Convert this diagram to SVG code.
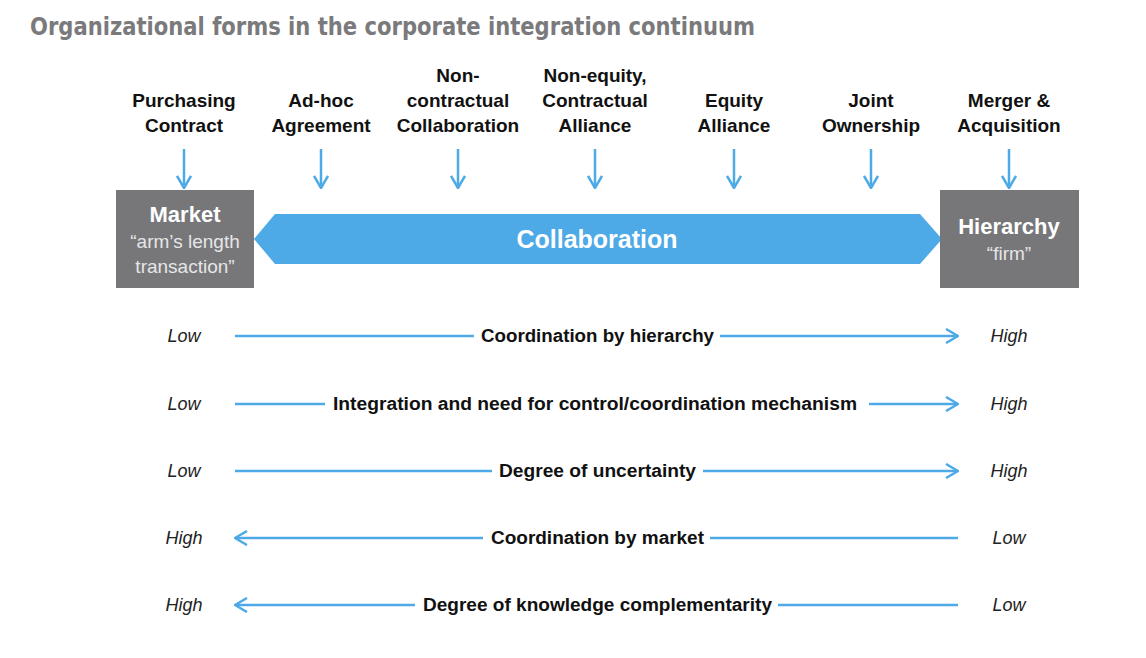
<svg xmlns="http://www.w3.org/2000/svg" width="1146" height="658" viewBox="0 0 1146 658">
<defs>
<style>
.title{font-family:"DejaVu Sans Condensed","DejaVu Sans",sans-serif;font-weight:bold;font-size:25px;fill:#7a7a7c}
.lab{font-family:"Liberation Sans",Arial,sans-serif;font-weight:bold;font-size:19px;fill:#111;text-anchor:middle}
.box{fill:#77777a}
.bt{font-family:"Liberation Sans",Arial,sans-serif;font-weight:bold;font-size:22px;fill:#fff;text-anchor:middle}
.bs{font-family:"Liberation Sans",Arial,sans-serif;font-size:19px;fill:#e6e6e6;text-anchor:middle}
.collab{fill:#4daae6}
.ct{font-family:"Liberation Sans",Arial,sans-serif;font-weight:bold;font-size:25px;fill:#fff;text-anchor:middle}
.ln{stroke:#4daae6;stroke-width:2.5;fill:none}
.it{font-family:"Liberation Sans",Arial,sans-serif;font-style:italic;font-size:18px;fill:#222;text-anchor:middle}
.rt{font-family:"Liberation Sans",Arial,sans-serif;font-weight:bold;font-size:18px;fill:#111}
</style>
<marker id="ah" viewBox="0 0 14 16" refX="13" refY="8" markerWidth="14" markerHeight="16" markerUnits="userSpaceOnUse" orient="auto">
<path d="M1,1 L13,8 L1,15" fill="none" stroke="#4daae6" stroke-width="2.5"/>
</marker>
</defs>
<rect width="1146" height="658" fill="#fff"/>
<text class="title" x="30" y="35" textLength="725" lengthAdjust="spacingAndGlyphs">Organizational forms in the corporate integration continuum</text>

<g id="labels">
<g id="purchasing"><text class="lab" x="184" y="107">Purchasing</text><text class="lab" x="184" y="132">Contract</text></g>
<g id="adhoc"><text class="lab" x="321" y="107">Ad-hoc</text><text class="lab" x="321" y="132">Agreement</text></g>
<g id="noncontractual"><text class="lab" x="458" y="82">Non-</text><text class="lab" x="458" y="107">contractual</text><text class="lab" x="458" y="132">Collaboration</text></g>
<g id="nonequity"><text class="lab" x="595" y="82">Non-equity,</text><text class="lab" x="595" y="107">Contractual</text><text class="lab" x="595" y="132">Alliance</text></g>
<g id="equity"><text class="lab" x="734" y="107">Equity</text><text class="lab" x="734" y="132">Alliance</text></g>
<g id="joint"><text class="lab" x="871" y="107">Joint</text><text class="lab" x="871" y="132">Ownership</text></g>
<g id="merger"><text class="lab" x="1009" y="107">Merger &amp;</text><text class="lab" x="1009" y="132">Acquisition</text></g>
</g>

<g id="connectors">
<line class="ln" x1="184" y1="149" x2="184" y2="188" marker-end="url(#ah)"/>
<line class="ln" x1="321" y1="149" x2="321" y2="188" marker-end="url(#ah)"/>
<line class="ln" x1="458" y1="149" x2="458" y2="188" marker-end="url(#ah)"/>
<line class="ln" x1="595" y1="149" x2="595" y2="188" marker-end="url(#ah)"/>
<line class="ln" x1="734" y1="149" x2="734" y2="188" marker-end="url(#ah)"/>
<line class="ln" x1="871" y1="149" x2="871" y2="188" marker-end="url(#ah)"/>
<line class="ln" x1="1009" y1="149" x2="1009" y2="188" marker-end="url(#ah)"/>

<line class="ln" x1="235" y1="336" x2="474" y2="336"/>
<line class="ln" x1="720" y1="336" x2="958" y2="336" marker-end="url(#ah)"/>
<line class="ln" x1="235" y1="404" x2="325" y2="404"/>
<line class="ln" x1="869" y1="404" x2="958" y2="404" marker-end="url(#ah)"/>
<line class="ln" x1="235" y1="471" x2="492" y2="471"/>
<line class="ln" x1="703" y1="471" x2="958" y2="471" marker-end="url(#ah)"/>
<line class="ln" x1="483" y1="538" x2="235" y2="538" marker-end="url(#ah)"/>
<line class="ln" x1="710" y1="538" x2="958" y2="538"/>
<line class="ln" x1="415" y1="605" x2="235" y2="605" marker-end="url(#ah)"/>
<line class="ln" x1="778" y1="605" x2="958" y2="605"/>
</g>

<g id="market">
<rect class="box" x="116" y="190" width="138" height="98"/>
<text class="bt" x="185" y="222">Market</text>
<text class="bs" x="185" y="248">“arm’s length</text>
<text class="bs" x="185" y="273">transaction”</text>
</g>
<g id="collaboration">
<path class="collab" d="M254,239 L275,214 L920,214 L942,239 L920,264 L275,264 Z"/>
<text class="ct" x="597" y="248">Collaboration</text>
</g>
<g id="hierarchy">
<rect class="box" x="940" y="190" width="139" height="98"/>
<text class="bt" x="1009" y="234">Hierarchy</text>
<text class="bs" x="1009" y="260">“firm”</text>
</g>

<g id="rows">
<text class="it" x="184" y="342">Low</text><text class="rt" x="481" y="342" textLength="233" lengthAdjust="spacingAndGlyphs">Coordination by hierarchy</text><text class="it" x="1009" y="342">High</text>
<text class="it" x="184" y="410">Low</text><text class="rt" x="333" y="410" textLength="524" lengthAdjust="spacingAndGlyphs">Integration and need for control/coordination mechanism</text><text class="it" x="1009" y="410">High</text>
<text class="it" x="184" y="477">Low</text><text class="rt" x="499" y="477" textLength="197" lengthAdjust="spacingAndGlyphs">Degree of uncertainty</text><text class="it" x="1009" y="477">High</text>
<text class="it" x="184" y="544">High</text><text class="rt" x="491" y="544" textLength="213" lengthAdjust="spacingAndGlyphs">Coordination by market</text><text class="it" x="1009" y="544">Low</text>
<text class="it" x="184" y="611">High</text><text class="rt" x="423" y="611" textLength="349" lengthAdjust="spacingAndGlyphs">Degree of knowledge complementarity</text><text class="it" x="1009" y="611">Low</text>
</g>
</svg>
